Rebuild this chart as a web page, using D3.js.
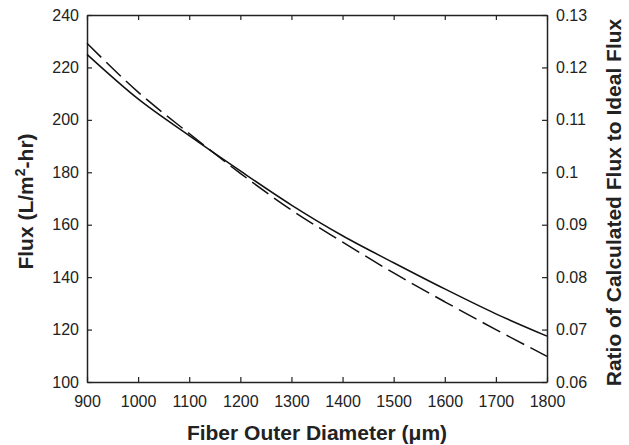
<!DOCTYPE html>
<html>
<head>
<meta charset="utf-8">
<script src="https://cdn.jsdelivr.net/npm/d3@7"></script>
<style>
  body { margin: 0; background: #fff; }
  svg text { font-family: "Liberation Sans", Arial, sans-serif; fill: #222; }
</style>
</head>
<body>
<svg id="chart" width="629" height="445"></svg>
<script>
// fiber outer diameter (um)
var diameters = [900, 1000, 1100, 1200, 1300, 1400, 1500, 1600, 1700, 1800];
// flux, left axis (solid)
var fluxValues = [225, 208, 194, 180.5, 167.5, 155.8, 145.5, 135.5, 126, 117.5];
// ratio calculated/ideal, right axis (dashed)
var ratioValues = [0.1246, 0.1153, 0.1074, 0.0998, 0.0928, 0.0867, 0.0808, 0.0753, 0.0700, 0.0649];

var xTicks = [900, 1000, 1100, 1200, 1300, 1400, 1500, 1600, 1700, 1800];
var fluxTicks = [100, 120, 140, 160, 180, 200, 220, 240];
var ratioTicks = [0.06, 0.07, 0.08, 0.09, 0.1, 0.11, 0.12, 0.13];

var margin = {top: 15, right: 82, bottom: 63, left: 87};
var width = 629 - margin.left - margin.right,
    height = 445 - margin.top - margin.bottom;

var svg = d3.select("#chart");
var g = svg.append("g").attr("transform", "translate(" + margin.left + "," + margin.top + ")");

var x = d3.scaleLinear().domain([900, 1800]).range([0, width]);
var yL = d3.scaleLinear().domain([100, 240]).range([height, 0]);
var yR = d3.scaleLinear().domain([0.06, 0.13]).range([height, 0]);

function styleAxis(sel) {
	sel.selectAll("path").attr("stroke", "#222").attr("stroke-width", 1.5);
	sel.selectAll("line").attr("stroke", "#222").attr("stroke-width", 1.2);
	sel.selectAll("text").style("font-size", "16px").attr("fill", "#222");
}

// bottom
g.append("g")
	.attr("transform", "translate(0," + height + ")")
	.call(d3.axisBottom(x).tickValues(xTicks).tickSizeInner(-5).tickSizeOuter(0).tickPadding(14)
		.tickFormat(d3.format("d")))
	.call(styleAxis);
// top (box, ticks only)
g.append("g")
	.call(d3.axisTop(x).tickValues(xTicks).tickSizeInner(-5).tickSizeOuter(0).tickFormat(""))
	.call(styleAxis);
// left
g.append("g")
	.call(d3.axisLeft(yL).tickValues(fluxTicks).tickSizeInner(-5).tickSizeOuter(0).tickPadding(8))
	.call(styleAxis);
// right
g.append("g")
	.attr("transform", "translate(" + width + ",0)")
	.call(d3.axisRight(yR).tickValues(ratioTicks).tickSizeInner(-5).tickSizeOuter(0).tickPadding(9)
		.tickFormat(function(d) { return String(+d.toFixed(2)); }))
	.call(styleAxis);

// lines
var fluxLine = d3.line()
	.x(function(d, i) { return x(diameters[i]); })
	.y(function(d) { return yL(d); })
	.curve(d3.curveMonotoneX);
var ratioLine = d3.line()
	.x(function(d, i) { return x(diameters[i]); })
	.y(function(d) { return yR(d); })
	.curve(d3.curveMonotoneX);

g.append("path").datum(fluxValues)
	.attr("d", fluxLine)
	.attr("fill", "none").attr("stroke", "#111").attr("stroke-width", 1.5);
g.append("path").datum(ratioValues)
	.attr("d", ratioLine)
	.attr("fill", "none").attr("stroke", "#111").attr("stroke-width", 1.5)
	.attr("stroke-dasharray", "20,7");

// axis titles
svg.append("text")
	.attr("x", margin.left + width / 2).attr("y", 440)
	.attr("text-anchor", "middle")
	.style("font-size", "21px").style("font-weight", "bold")
	.text("Fiber Outer Diameter (\u03bcm)");

var lt = svg.append("text")
	.attr("transform", "translate(33," + (margin.top + height / 2 + 3) + ") rotate(-90)")
	.attr("text-anchor", "middle")
	.style("font-size", "21px").style("font-weight", "bold");
lt.append("tspan").text("Flux (L/m");
lt.append("tspan").attr("dy", -8).style("font-size", "14px").text("2");
lt.append("tspan").attr("dy", 8).text("-hr)");

svg.append("text")
	.attr("transform", "translate(621," + (margin.top + height / 2 + 4) + ") rotate(-90)")
	.attr("text-anchor", "middle")
	.style("font-size", "21px").style("font-weight", "bold")
	.text("Ratio of Calculated Flux to Ideal Flux");
</script>
</body>
</html>
